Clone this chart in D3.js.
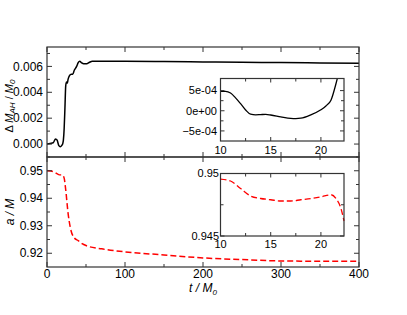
<!DOCTYPE html>
<html>
<head>
<meta charset="utf-8">
<script src="https://cdn.jsdelivr.net/npm/d3@7"></script>
<style>
  body { margin: 0; background: #fff; }
  svg { font-family: "Liberation Sans", Arial, sans-serif; }
  .frame { fill: none; stroke: #333; stroke-width: 1.2; }
</style>
</head>
<body>
<div id="ChartContainer"></div>
<script>
// Horizon mass change vs time (main panel)
var massT = [0, 4, 8, 11, 13, 15, 17, 19, 20, 21, 22, 23, 24, 25, 26, 27, 29, 31, 33, 35, 38, 40, 42, 44, 47, 50, 54, 58, 65, 80, 100, 150, 200, 250, 300, 350, 400]
var massV = [0.0, 0.00005, 0.0001, 0.0004, 0.0003, -0.0001, -0.0002, -0.0001, 0.0, 0.0003, 0.0012, 0.0028, 0.0045, 0.0048, 0.0047, 0.0050, 0.0053, 0.0054, 0.0054, 0.0057, 0.0060, 0.0063, 0.0064, 0.0063, 0.0062, 0.0062, 0.0063, 0.0064, 0.0064, 0.0064, 0.0064, 0.00638, 0.00635, 0.00632, 0.0063, 0.00627, 0.00624]

// Mass change inset (early times)
var massInsetT = [10, 10.5, 11, 11.5, 12, 12.5, 13, 13.5, 14, 14.5, 15, 16, 17, 17.5, 18, 19, 20, 20.5, 21, 21.5, 22, 22.3]
var massInsetV = [4.8e-4, 4.8e-4, 4.4e-4, 3.2e-4, 1.75e-4, 0.2e-4, -0.85e-4, -1.0e-4, -0.95e-4, -0.9e-4, -1.05e-4, -1.5e-4, -1.9e-4, -1.95e-4, -1.85e-4, -1.0e-4, 0.25e-4, 1.2e-4, 2.6e-4, 6.7e-4, 1.2e-3, 1.6e-3]

// Spin a/M vs time (main panel)
var spinT = [0, 5, 10, 15, 20, 22, 24, 27, 30, 35, 40, 45, 50, 70, 100, 150, 200, 250, 300, 350, 400]
var spinV = [0.95, 0.9499, 0.9494, 0.9486, 0.9484, 0.9473, 0.9431, 0.9346, 0.9292, 0.9256, 0.9246, 0.9235, 0.9228, 0.9216, 0.9205, 0.9194, 0.9183, 0.9177, 0.9172, 0.9171, 0.9171]

// Spin inset
var spinInsetT = [10, 11, 12, 13, 14, 15, 16, 17, 18, 19, 20, 21, 21.5, 22, 22.3]
var spinInsetV = [0.94955, 0.9494, 0.9488, 0.9482, 0.9480, 0.9479, 0.9478, 0.9478, 0.9479, 0.9480, 0.94813, 0.9483, 0.9480, 0.9472, 0.9462]

var xTicks = [0, 100, 200, 300, 400]
var massTicks = [0.000, 0.002, 0.004, 0.006]
var spinTicks = [0.92, 0.93, 0.94, 0.95]
var insetXTicks = [10, 15, 20]
var massInsetTicks = [-5e-4, 0, 5e-4]
var spinInsetTicks = [0.945, 0.95]

var fullWidth = 407
var fullHeight = 315
var left = 47, right = 359
var topY = 47, midY = 157, botY = 267

var svg = d3.select("#ChartContainer").append("svg")
  .attr("width", fullWidth)
  .attr("height", fullHeight)

var x = d3.scaleLinear().domain([0, 400]).range([left, right])
var yMass = d3.scaleLinear().domain([-0.001, 0.0075]).range([midY, topY])
var ySpin = d3.scaleLinear().domain([0.915, 0.955]).range([botY, midY])

// draws inward ticks on all four sides of a box
function drawTicks(g, xs, ys, major, minor, opts) {
  var x0 = xs.range()[0], x1 = xs.range()[1]
  var y0 = ys.range()[0], y1 = ys.range()[1]
  var len = opts.len || 5, mlen = opts.mlen || 3
  major.x.concat(minor.x).forEach(function (v, i) {
    var l = i < major.x.length ? len : mlen
    var px = xs(v)
    g.append("line").attr("x1", px).attr("x2", px).attr("y1", y0).attr("y2", y0 - l).attr("stroke", "#333")
    g.append("line").attr("x1", px).attr("x2", px).attr("y1", y1).attr("y2", y1 + l).attr("stroke", "#333")
  })
  major.y.concat(minor.y).forEach(function (v, i) {
    var l = i < major.y.length ? len : mlen
    var py = ys(v)
    g.append("line").attr("x1", x0).attr("x2", x0 + l).attr("y1", py).attr("y2", py).attr("stroke", "#333")
    g.append("line").attr("x1", x1).attr("x2", x1 - l).attr("y1", py).attr("y2", py).attr("stroke", "#333")
  })
  g.append("rect")
    .attr("class", "frame")
    .attr("x", x0).attr("y", y1)
    .attr("width", x1 - x0).attr("height", y0 - y1)
}

var line = function (xs, ys) {
  return d3.line()
    .x(function (d) { return xs(d[0]) })
    .y(function (d) { return ys(d[1]) })
    .curve(d3.curveMonotoneX)
}

// ---- top panel
var gTop = svg.append("g")
svg.append("clipPath").attr("id", "clipTop").append("rect")
  .attr("x", left).attr("y", topY).attr("width", right - left).attr("height", midY - topY)
gTop.append("path")
  .datum(d3.zip(massT, massV))
  .attr("clip-path", "url(#clipTop)")
  .attr("fill", "none").attr("stroke", "#000").attr("stroke-width", 1.5)
  .attr("d", line(x, yMass))
drawTicks(gTop, x, yMass,
  { x: xTicks, y: massTicks },
  { x: [50, 150, 250, 350], y: [-0.001, 0.001, 0.003, 0.005, 0.007] }, {})
massTicks.forEach(function (v) {
  gTop.append("text").attr("x", left - 4).attr("y", yMass(v)).attr("dy", "0.35em")
    .attr("text-anchor", "end").attr("font-size", 12).text(d3.format(".3f")(v))
})

// ---- bottom panel
var gBot = svg.append("g")
gBot.append("path")
  .datum(d3.zip(spinT, spinV))
  .attr("fill", "none").attr("stroke", "#f00").attr("stroke-width", 1.5)
  .attr("stroke-dasharray", "6,3")
  .attr("d", line(x, ySpin))
drawTicks(gBot, x, ySpin,
  { x: xTicks, y: spinTicks },
  { x: [50, 150, 250, 350], y: [0.925, 0.935, 0.945] }, {})
spinTicks.forEach(function (v) {
  gBot.append("text").attr("x", left - 4).attr("y", ySpin(v)).attr("dy", "0.35em")
    .attr("text-anchor", "end").attr("font-size", 12).text(d3.format(".2f")(v))
})
xTicks.forEach(function (v) {
  gBot.append("text").attr("x", x(v)).attr("y", botY + 11)
    .attr("text-anchor", "middle").attr("font-size", 12).text(v)
})

// ---- inset mass
var xi = d3.scaleLinear().domain([10, 22.3]).range([220.5, 344])
var yMi = d3.scaleLinear().domain([-7.5e-4, 8e-4]).range([141, 78.5])
var gIn1 = svg.append("g")
svg.append("clipPath").attr("id", "clipIn1").append("rect")
  .attr("x", 220.5).attr("y", 78.5).attr("width", 344 - 220.5).attr("height", 141 - 78.5)
gIn1.append("rect").attr("x", 220.5).attr("y", 78.5).attr("width", 344 - 220.5).attr("height", 141 - 78.5).attr("fill", "#fff")
gIn1.append("path")
  .datum(d3.zip(massInsetT, massInsetV))
  .attr("clip-path", "url(#clipIn1)")
  .attr("fill", "none").attr("stroke", "#000").attr("stroke-width", 1.3)
  .attr("d", line(xi, yMi))
drawTicks(gIn1, xi, yMi,
  { x: insetXTicks, y: massInsetTicks },
  { x: [12.5, 17.5], y: [-2.5e-4, 2.5e-4] }, { len: 4, mlen: 3 })
var sciFmt = function (v) {
  if (v === 0) return "0e+00"
  return d3.format(".0e")(v).replace(/e([+-])(\d)$/, "e$10$2")
}
massInsetTicks.forEach(function (v) {
  gIn1.append("text").attr("x", 217).attr("y", yMi(v)).attr("dy", "0.35em")
    .attr("text-anchor", "end").attr("font-size", 11).text(sciFmt(v))
})
insetXTicks.forEach(function (v) {
  gIn1.append("text").attr("x", xi(v)).attr("y", 154)
    .attr("text-anchor", "middle").attr("font-size", 11).text(v)
})

// ---- inset spin
var ySi = d3.scaleLinear().domain([0.945, 0.95]).range([236, 173.5])
var gIn2 = svg.append("g")
gIn2.append("rect").attr("x", 220.5).attr("y", 173.5).attr("width", 344 - 220.5).attr("height", 236 - 173.5).attr("fill", "#fff")
gIn2.append("path")
  .datum(d3.zip(spinInsetT, spinInsetV))
  .attr("fill", "none").attr("stroke", "#f00").attr("stroke-width", 1.3)
  .attr("stroke-dasharray", "6,3")
  .attr("d", line(xi, ySi))
drawTicks(gIn2, xi, ySi,
  { x: insetXTicks, y: spinInsetTicks },
  { x: [12.5, 17.5], y: [0.9475] }, { len: 4, mlen: 3 })
spinInsetTicks.forEach(function (v) {
  gIn2.append("text").attr("x", 219).attr("y", ySi(v)).attr("dy", "0.35em")
    .attr("text-anchor", "end").attr("font-size", 11).text(v === 0.95 ? "0.95" : "0.945")
})
insetXTicks.forEach(function (v) {
  gIn2.append("text").attr("x", xi(v)).attr("y", 248)
    .attr("text-anchor", "middle").attr("font-size", 11).text(v)
})

// ---- axis labels
var lab1 = svg.append("text")
  .attr("transform", "translate(13,106) rotate(-90)")
  .attr("text-anchor", "middle").attr("font-size", 11)
lab1.append("tspan").text("\u0394 ")
lab1.append("tspan").attr("font-style", "italic").text("M")
lab1.append("tspan").attr("font-style", "italic").attr("font-size", 8).attr("dy", 2).text("AH")
lab1.append("tspan").attr("dy", -2).text(" / ")
lab1.append("tspan").attr("font-style", "italic").text("M")
lab1.append("tspan").attr("font-style", "italic").attr("font-size", 8).attr("dy", 2).text("0")

svg.append("text")
  .attr("transform", "translate(14," + ((midY + botY) / 2) + ") rotate(-90)")
  .attr("text-anchor", "middle").attr("font-size", 12).attr("font-style", "italic")
  .text("a / M")

var lab3 = svg.append("text")
  .attr("x", x(200)).attr("y", 292)
  .attr("text-anchor", "middle").attr("font-size", 12).attr("font-style", "italic")
lab3.append("tspan").text("t / M")
lab3.append("tspan").attr("font-size", 8).attr("dy", 3).text("0")
</script>
</body>
</html>
